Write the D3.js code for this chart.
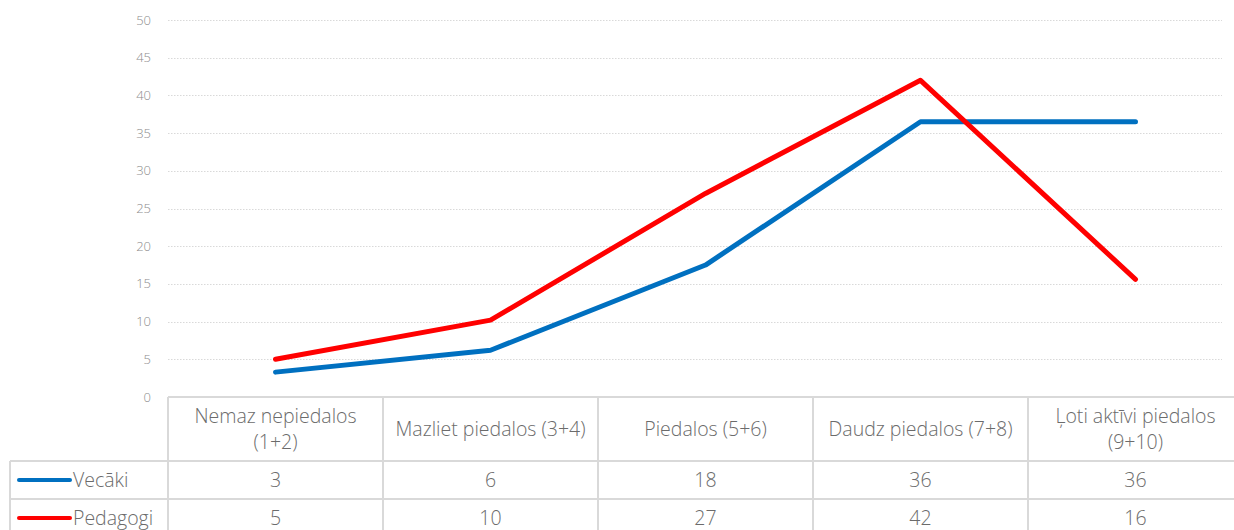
<!DOCTYPE html>
<head>
<meta charset="utf-8">
<title>Vecāki / Pedagogi</title>
<style>
    body { margin:0; background:#fff; }
    svg { display:block; }
    text { font-family: "Open Sans", "DejaVu Sans", sans-serif; font-weight: 300; }
</style>
</head>
<body>
<svg width="1234" height="530"></svg>

<script src="https://cdnjs.cloudflare.com/ajax/libs/d3/7.8.5/d3.min.js"></script>
<script>
var categories = [["Nemaz nepiedalos", "(1+2)"], ["Mazliet piedalos (3+4)"], ["Piedalos (5+6)"], ["Daudz piedalos (7+8)"], ["Ļoti aktīvi piedalos", "(9+10)"]];
var seriesNames = ["Vecāki", "Pedagogi"];
var seriesColors = ["#0070c0", "#ff0000"];
var vecaki = [3.3, 6.2, 17.5, 36.5, 36.5];
var pedagogi = [5.0, 10.2, 27.0, 42.0, 15.6];
var vecakiLabels = ["3", "6", "18", "36", "36"];
var pedagogiLabels = ["5", "10", "27", "42", "16"];
var yTicks = [0, 5, 10, 15, 20, 25, 30, 35, 40, 45, 50];

var series = [vecaki, pedagogi];
var tableLabels = [vecakiLabels, pedagogiLabels];
var svg = d3.select("svg");

var plotL = 168, plotR = 1243, plotT = 20, plotB = 397;
var x = d3.scaleBand().domain(d3.range(categories.length)).range([plotL, plotR]);
var y = d3.scaleLinear().domain([0, 50]).range([plotB, plotT]);

// gridlines
svg.append("g").selectAll("line").data(yTicks.slice(1)).enter().append("line")
    .attr("x1", plotL).attr("x2", 1222)
    .attr("y1", function(d){ return Math.round(y(d)) + 0.5 }).attr("y2", function(d){ return Math.round(y(d)) + 0.5 })
    .attr("stroke", "#d9d9d9").attr("stroke-width", 1).attr("stroke-dasharray", "1.5,1.5");

// y labels
svg.append("g").selectAll("text").data(yTicks).enter().append("text")
    .attr("x", 151).attr("y", function(d){ return y(d) })
    .attr("dy", "0.35em").attr("text-anchor", "end")
    .attr("font-size", 13).attr("fill", "#8c8c8c")
    .text(function(d){ return d });

// table
var rowY = [397, 461, 499, 540];
var grid = svg.append("g").attr("stroke", "#d9d9d9").attr("stroke-width", 2);
grid.append("line").attr("x1", plotL).attr("x2", 1234).attr("y1", rowY[0]).attr("y2", rowY[0]);
grid.append("line").attr("x1", 10).attr("x2", 1234).attr("y1", rowY[1]).attr("y2", rowY[1]);
grid.append("line").attr("x1", 10).attr("x2", 1234).attr("y1", rowY[2]).attr("y2", rowY[2]);
grid.append("line").attr("x1", 10).attr("x2", 10).attr("y1", rowY[1]).attr("y2", 530);
d3.range(categories.length).forEach(function(i){
  grid.append("line").attr("x1", x(i)).attr("x2", x(i)).attr("y1", rowY[0]).attr("y2", 530);
});

// category headers
var head = svg.append("g").selectAll("text").data(categories).enter().append("text")
    .attr("text-anchor", "middle").attr("font-size", 19.5).attr("fill", "#6b6b6b");
head.each(function(lines, i){
  var t = d3.select(this);
  var cy = (rowY[0] + rowY[1]) / 2;
  lines.forEach(function(s, j){
    t.append("tspan").attr("x", x(i) + x.bandwidth() / 2)
     .attr("y", cy + (j - (lines.length - 1) / 2) * 26)
     .attr("dy", "0.35em").text(s);
  });
});

// series rows
series.forEach(function(vals, k){
  var cy = (rowY[k + 1] + rowY[k + 2]) / 2;
  if (k == 1) cy = 518;
  svg.append("line").attr("x1", 19).attr("x2", 70).attr("y1", cy).attr("y2", cy)
     .attr("stroke", seriesColors[k]).attr("stroke-width", 4).attr("stroke-linecap", "round");
  svg.append("text").attr("x", 73).attr("y", cy).attr("dy", "0.35em")
     .attr("font-size", 19.5).attr("fill", "#6b6b6b").text(seriesNames[k]);
  svg.append("g").selectAll("text").data(tableLabels[k]).enter().append("text")
     .attr("x", function(d, i){ return x(i) + x.bandwidth() / 2 })
     .attr("y", cy).attr("dy", "0.35em").attr("text-anchor", "middle")
     .attr("font-size", 19.5).attr("fill", "#6b6b6b").text(function(d){ return d });
});

// lines
var line = d3.line()
    .x(function(d, i){ return x(i) + x.bandwidth() / 2 })
    .y(function(d){ return y(d) });
series.forEach(function(vals, k){
  svg.append("path").datum(vals).attr("d", line)
     .attr("fill", "none").attr("stroke", seriesColors[k]).attr("stroke-width", 5)
     .attr("stroke-linecap", "round").attr("stroke-linejoin", "round");
});
</script>
</body>
